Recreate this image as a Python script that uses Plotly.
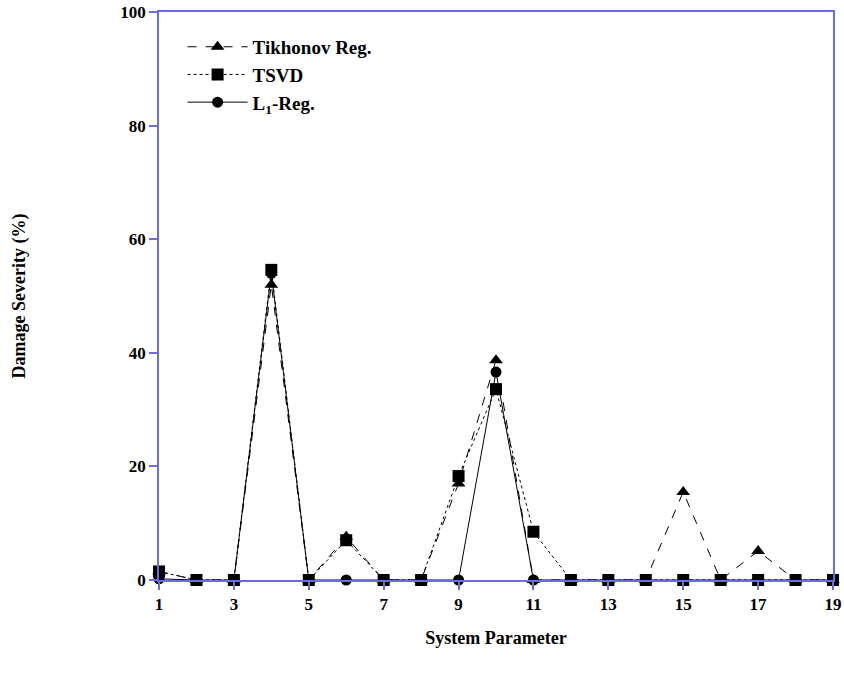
import plotly.graph_objects as go

params = list(range(1, 20))
tikhonov = [1.5, 0, 0, 52.0, 0, 7.6, 0, 0, 17.0, 38.7, 0, 0, 0, 0, 15.5, 0, 5.1, 0, 0]
tsvd = [1.5, 0, 0, 54.6, 0, 7.0, 0, 0, 18.3, 33.6, 8.5, 0, 0, 0, 0, 0, 0, 0, 0]
l1reg = [0.2, 0, 0, 54.0, 0, 0, 0, 0, 0, 36.6, 0, 0, 0, 0, 0, 0, 0, 0, 0]

x_ticks = [1, 3, 5, 7, 9, 11, 13, 15, 17, 19]
y_ticks = [0, 20, 40, 60, 80, 100]

axis_color = "#6b6be6"
font_family = "Liberation Serif"

fig = go.Figure()
fig.add_trace(go.Scatter(
    x=params, y=tikhonov, name="<b>Tikhonov Reg.</b>", mode="lines+markers",
    line=dict(color="black", width=1, dash="dash"),
    marker=dict(symbol="triangle-up", size=12, color="black"),
    cliponaxis=False,
))
fig.add_trace(go.Scatter(
    x=params, y=tsvd, name="<b>TSVD</b>", mode="lines+markers",
    line=dict(color="black", width=1, dash="dot"),
    marker=dict(symbol="square", size=12, color="black"),
    cliponaxis=False,
))
fig.add_trace(go.Scatter(
    x=params, y=l1reg, name="<b>L<sub>1</sub>-Reg.</b>", mode="lines+markers",
    line=dict(color="black", width=1, dash="solid"),
    marker=dict(symbol="circle", size=11, color="black"),
    cliponaxis=False,
))

fig.update_layout(
    width=844, height=681,
    margin=dict(l=159, r=11, t=12, b=101),
    plot_bgcolor="white", paper_bgcolor="white",
    font=dict(family=font_family, size=18, color="black"),
    showlegend=True,
    legend=dict(
        x=0.035, y=0.972, xanchor="left", yanchor="top",
        bgcolor="rgba(0,0,0,0)", font=dict(family=font_family, size=19, color="black"),
        tracegroupgap=0, itemwidth=60,
    ),
    xaxis=dict(
        range=[1, 19], tickvals=x_ticks, ticktext=[f"<b>{v}</b>" for v in x_ticks],
        showgrid=False, zeroline=False, showline=True, mirror=True,
        linecolor=axis_color, linewidth=1.5, automargin=False,
        ticks="outside", ticklen=8, tickcolor=axis_color, tickwidth=1.5,
        tickfont=dict(size=17),
        title=dict(text="<b>System Parameter</b>", font=dict(size=18), standoff=18),
    ),
    yaxis=dict(
        range=[0, 100], tickvals=y_ticks, ticktext=[f"<b>{v}</b>" for v in y_ticks],
        showgrid=False, zeroline=False, showline=True, mirror=True,
        linecolor=axis_color, linewidth=1.5, automargin=False,
        ticks="outside", ticklen=8, tickcolor=axis_color, tickwidth=1.5,
        tickfont=dict(size=17),
        title=dict(text="<b>Damage Severity (%)</b>", font=dict(size=18), standoff=90),
    ),
)

fig.write_html("out.html")
